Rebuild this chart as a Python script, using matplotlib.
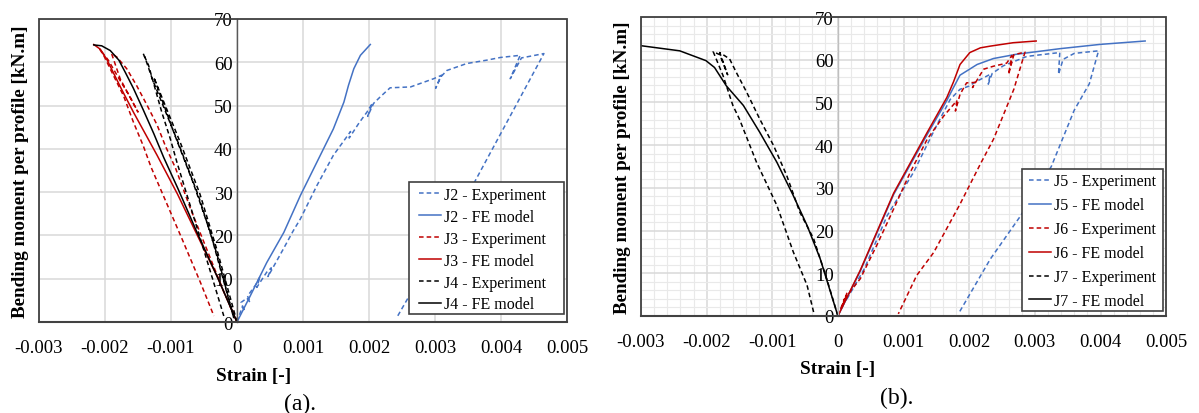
import matplotlib
matplotlib.use("Agg")
import matplotlib.pyplot as plt
from matplotlib.patches import Rectangle
from matplotlib.ticker import MultipleLocator

plt.rcParams['font.family'] = ['Liberation Serif', 'DejaVu Serif']

BLUE = '#4472C4'
RED = '#C00000'
BLACK = '#000000'

x_ticks = [-0.003, -0.002, -0.001, 0, 0.001, 0.002, 0.003, 0.004, 0.005]
x_tick_labels = ['-0.003', '-0.002', '-0.001', '0', '0.001', '0.002', '0.003', '0.004', '0.005']
y_ticks = [0, 10, 20, 30, 40, 50, 60, 70]

# ---------------- panel (a) ----------------
j2_exp_x = [0, 0.00008, 0.00012, 0.00006, 0.00015, 0.0002, 0.00016, 0.00028, 0.00035, 0.0003,
            0.00045, 0.00052, 0.00047, 0.0007, 0.00085, 0.00096, 0.00121, 0.00146, 0.00165,
            0.00172, 0.0017, 0.00185, 0.00197, 0.00205, 0.00198, 0.00207, 0.00217, 0.00232,
            0.00263, 0.00298, 0.0031, 0.00301, 0.00308, 0.00318, 0.00348, 0.00379, 0.00399,
            0.00429, 0.00414, 0.00431, 0.00465, 0.00357, 0.00242]
j2_exp_y = [0, 3.5, 2.5, 4.5, 5.5, 4.5, 6, 8.5, 10.5, 8,
            11.5, 12.5, 10.5, 16.8, 21, 23.8, 31.5, 38.5, 42.5,
            44, 42.5, 46, 48.5, 50.5, 47.5, 50.5, 52, 54.1,
            54.3, 56.2, 57, 54, 56.5, 58.1, 59.7, 60.5, 61.1,
            61.6, 56.2, 61, 62, 31.5, 1.0]

j2_fe_x = [0, 0.0002, 0.00045, 0.00071, 0.00096, 0.00121, 0.00146, 0.00162, 0.00169, 0.00177, 0.00187, 0.00202]
j2_fe_y = [0, 6, 13.7, 20.7, 29.2, 36.9, 44.6, 50.8, 54.7, 58.5, 61.6, 64.1]

j3_exp_x = [0, -0.0001, -0.00005, -0.0002, -0.00045, -0.0007, -0.00093, -0.00108, -0.00121,
            -0.00136, -0.00152, -0.00167, -0.00182, -0.0019, -0.00177, -0.00162, -0.0015,
            -0.00162, -0.00178, -0.00195, -0.00208, -0.00202, -0.00187, -0.00172, -0.00157,
            -0.00142, -0.0013, -0.00083, -0.00055, -0.00035]
j3_exp_y = [0, 3.5, 2, 7, 16.5, 26, 35.5, 40.5, 45.5,
            50, 54.6, 58.5, 61.2, 62, 56.2, 51.9, 48.5,
            52, 56, 60.5, 63, 61.6, 56.9, 52.3, 46.2,
            40.7, 35.7, 19.1, 9, 1.4]

j3_fe_x = [0, -0.0003, -0.0006, -0.0009, -0.00121, -0.00139, -0.00157, -0.00174, -0.00187, -0.00197, -0.00207, -0.00217]
j3_fe_y = [0, 10.5, 20, 29.5, 38.5, 43.5, 48.5, 53.5, 57.5, 60.6, 63, 64.1]

j4_exp_x = [0, -0.0003, -0.00056, -0.00086, -0.00106, -0.00126, -0.0012, -0.00095, -0.00066,
            -0.0004, -0.00005, -0.0003, -0.00058, -0.00088, -0.00108, -0.00128, -0.00138, -0.00142,
            -0.00134, -0.00124, -0.00114, -0.00101, -0.00091, -0.0006, -0.0004, -0.0002]
j4_exp_y = [0, 16.5, 29.5, 41.5, 49, 56.5, 54, 43.5, 32,
            20.5, 1, 15.5, 29, 41, 48.5, 56, 60.5, 62,
            59.3, 53.9, 48.5, 42.3, 36.9, 21.5, 11.5, 1.4]

j4_fe_x = [0, -0.0003, -0.0006, -0.0009, -0.00111, -0.00126, -0.00142, -0.00157, -0.00169, -0.00179, -0.00192, -0.00205, -0.00217]
j4_fe_y = [0, 10.5, 20.5, 31, 38, 43.5, 49, 54, 57.6, 60.5, 62.7, 63.8, 64.0]

# ---------------- panel (b) ----------------
j5_exp_x = [0, 0.00008, 0.00005, 0.00015, 0.00012, 0.00025, 0.0004, 0.00075, 0.00115, 0.0015,
            0.00171, 0.00186, 0.00201, 0.00207, 0.00232, 0.00229, 0.00235, 0.00252, 0.00288,
            0.00338, 0.00336, 0.00343, 0.0036, 0.00397, 0.00383, 0.0036, 0.00325, 0.00278,
            0.00232, 0.00185]
j5_exp_y = [0, 3, 1.5, 5, 3.5, 7, 11, 23.5, 33.6, 44.5,
            50.7, 53.1, 53.9, 54.6, 56.6, 54.3, 56.8, 58.6, 60.8,
            61.7, 56.6, 60.1, 61.5, 62.1, 54.4, 48.2, 35, 23.4,
            13.3, 0.9]

j5_fe_x = [0, 0.00034, 0.00085, 0.00136, 0.00166, 0.00176, 0.00186, 0.00212, 0.00237, 0.00272, 0.00338, 0.00399, 0.00468]
j5_fe_y = [0, 10.5, 28.5, 42.5, 50.5, 53.5, 56.4, 58.9, 60.3, 61.3, 62.6, 63.6, 64.4]

j6_exp_x = [0, 0.0001, 0.00006, 0.00014, 0.0001, 0.0002, 0.00034, 0.00059, 0.00085, 0.0011,
            0.00136, 0.00161, 0.00181, 0.00179, 0.00186, 0.00196, 0.00209, 0.00205, 0.00222,
            0.00237, 0.00257, 0.00265, 0.0026, 0.00268, 0.00285, 0.00268, 0.00237, 0.00217,
            0.00186, 0.00146, 0.0012, 0.00092]
j6_exp_y = [0, 4, 2, 5.5, 3.5, 6, 8.7, 16.5, 25.1, 33.6,
            41.4, 46.8, 50.4, 48, 51.9, 54.6, 54.7, 53.5, 57.8,
            58.5, 59.2, 61, 56.6, 61.2, 61.8, 53.1, 41.4, 35.6,
            26.2, 14.9, 9.5, 0.5]

j6_fe_x = [0, 0.00034, 0.00085, 0.00136, 0.00166, 0.00176, 0.00186, 0.00201, 0.00217, 0.00232, 0.00267, 0.00302]
j6_fe_y = [0, 10.7, 28.8, 43, 51.2, 54.8, 58.9, 61.7, 62.8, 63.2, 64.0, 64.4]

j7_exp_x = [0, -0.00017, -0.00037, -0.00058, -0.00078, -0.00098, -0.00119, -0.00139, -0.00155,
            -0.00165, -0.0018, -0.00168, -0.0018, -0.0019, -0.00175, -0.0016, -0.0015, -0.00124,
            -0.00093, -0.00068, -0.00047, -0.00037]
j7_exp_y = [0, 8.7, 18.1, 24.3, 32.9, 39.9, 46.1, 52.4, 57.1,
            60.2, 61.7, 56.5, 61.2, 61.9, 56.3, 49.3, 46.1, 36,
            25.9, 15, 7.2, 0.9]

j7_fe_x = [-0.003, -0.00241, -0.00201, -0.00188, -0.0017, -0.00144, -0.00119, -0.00093, -0.00068, -0.00047, -0.00027, 0]
j7_fe_y = [63.3, 62.1, 59.8, 58.2, 53.9, 49.3, 43, 36, 28.2, 21.2, 13.4, 0]

DASH = (0, (3, 2))
FS = 13.5      # tick labels
LEG_FS = 11.5  # legend
LAB_FS = 13.8  # axis titles
LW = 1.1


def setup_axes(ax, minor, zero_color):
    ax.set_xlim(-0.003, 0.005)
    ax.set_ylim(0, 70)
    ax.set_xticks(x_ticks)
    ax.set_xticklabels(x_tick_labels)
    ax.set_yticks(y_ticks)
    ax.tick_params(which='both', length=0, labelsize=FS)
    ax.tick_params(axis='x', pad=12.5)
    ax.tick_params(axis='y', pad=3)
    if minor:
        ax.xaxis.set_minor_locator(MultipleLocator(0.0002))
        ax.yaxis.set_minor_locator(MultipleLocator(2))
        ax.grid(which='minor', color='#e9e9e9', lw=0.8)
    ax.grid(which='major', color='#d9d9d9', lw=1.1)
    ax.set_axisbelow(True)
    ax.spines['left'].set_position(('data', 0))
    ax.spines['left'].set_color(zero_color)
    ax.spines['left'].set_linewidth(1.0)
    ax.spines['bottom'].set_color('#595959')
    ax.spines['bottom'].set_linewidth(1.5)
    ax.spines['top'].set_visible(False)
    ax.spines['right'].set_visible(False)
    ax.add_patch(Rectangle((0, 0), 1, 1, transform=ax.transAxes, fill=False,
                           ec='#404040', lw=1.3, clip_on=False, zorder=5))


def add_legend(ax, frame, center, spacing):
    # Excel-style legend box: white frame with extra room on the right
    ax.add_patch(Rectangle(frame[:2], frame[2], frame[3], transform=ax.transAxes,
                           fc='white', ec='#404040', lw=1.2, zorder=4.5))
    ax.legend(loc='center', bbox_to_anchor=center, fontsize=LEG_FS, frameon=False,
              handlelength=1.35, handletextpad=0.2, labelspacing=spacing, borderpad=0)


fig = plt.figure(figsize=(11.99, 4.14), dpi=100)

# panel (a)
ax1 = fig.add_axes([0.0325, 0.2198, 0.4404, 0.732])
setup_axes(ax1, False, '#595959')
ax1.plot(j2_exp_x, j2_exp_y, color=BLUE, ls=DASH, lw=LW, label='J2 - Experiment')
ax1.plot(j2_fe_x, j2_fe_y, color=BLUE, lw=LW, label='J2 - FE model')
ax1.plot(j3_exp_x, j3_exp_y, color=RED, ls=DASH, lw=LW, label='J3 - Experiment')
ax1.plot(j3_fe_x, j3_fe_y, color=RED, lw=LW, label='J3 - FE model')
ax1.plot(j4_exp_x, j4_exp_y, color=BLACK, ls=DASH, lw=LW, label='J4 - Experiment')
ax1.plot(j4_fe_x, j4_fe_y, color=BLACK, lw=LW, label='J4 - FE model')
add_legend(ax1, (0.7008, 0.0264, 0.2936, 0.4356), (0.840, 0.2386), 0.37)
ax1.set_ylabel('Bending moment per profile [kN.m]', fontsize=LAB_FS, fontweight='bold')
ax1.yaxis.set_label_coords(-0.019, 0.5)
ax1.set_xlabel('Strain [-]', fontsize=LAB_FS, fontweight='bold')
ax1.xaxis.set_label_coords(0.407, -0.15)
fig.text(300 / 1199, 1 - 404 / 414, '(a).', fontsize=17, ha='center', va='center')

# panel (b)
ax2 = fig.add_axes([0.5346, 0.2343, 0.438, 0.722])
setup_axes(ax2, True, '#bfbfbf')
ax2.plot(j5_exp_x, j5_exp_y, color=BLUE, ls=DASH, lw=LW, label='J5 - Experiment')
ax2.plot(j5_fe_x, j5_fe_y, color=BLUE, lw=LW, label='J5 - FE model')
ax2.plot(j6_exp_x, j6_exp_y, color=RED, ls=DASH, lw=LW, label='J6 - Experiment')
ax2.plot(j6_fe_x, j6_fe_y, color=RED, lw=LW, label='J6 - FE model')
ax2.plot(j7_exp_x, j7_exp_y, color=BLACK, ls=DASH, lw=LW, label='J7 - Experiment')
ax2.plot(j7_fe_x, j7_fe_y, color=BLACK, lw=LW, label='J7 - FE model')
add_legend(ax2, (0.7257, 0.0167, 0.2686, 0.4749), (0.860, 0.2505), 0.5)
ax2.set_ylabel('Bending moment per profile [kN.m]', fontsize=LAB_FS, fontweight='bold')
ax2.yaxis.set_label_coords(-0.019, 0.5)
ax2.set_xlabel('Strain [-]', fontsize=LAB_FS, fontweight='bold')
ax2.xaxis.set_label_coords(0.375, -0.148)
fig.text(897 / 1199, 1 - 398 / 414, '(b).', fontsize=17, ha='center', va='center')

fig.savefig('out.png', dpi=100)
